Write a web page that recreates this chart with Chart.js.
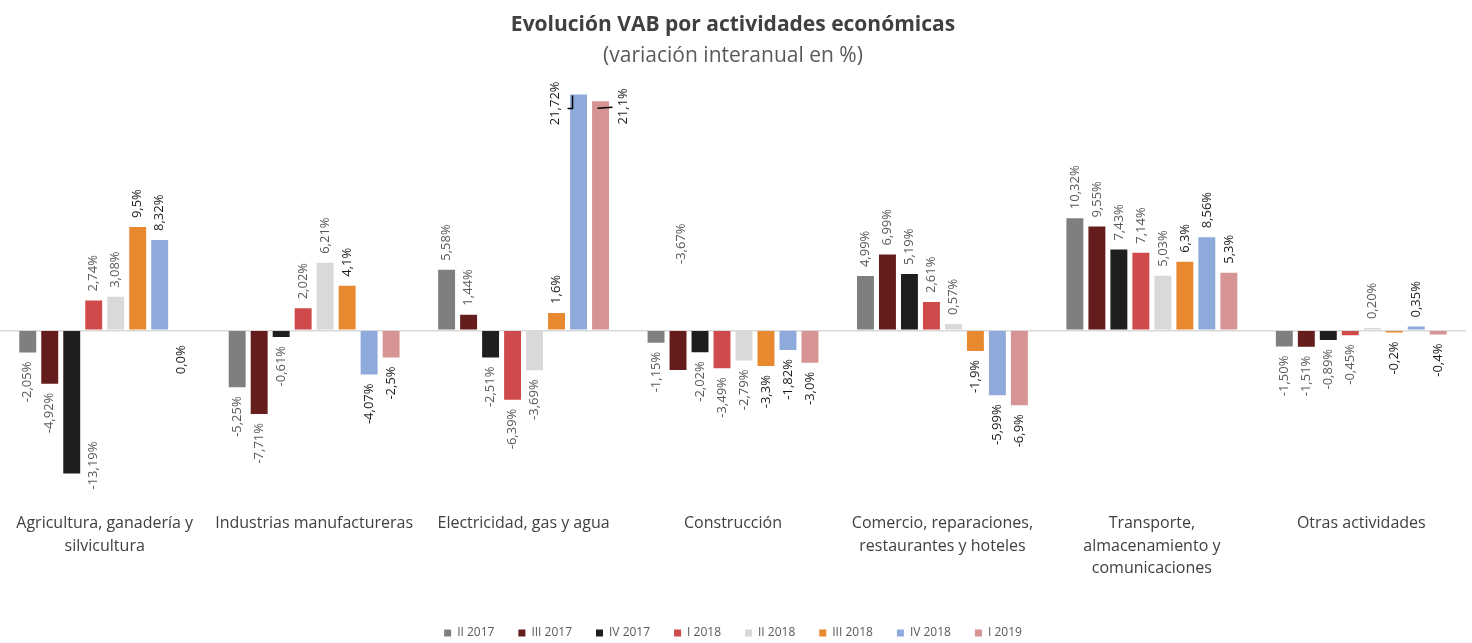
<!DOCTYPE html>
<html>
<head>
<meta charset="utf-8">
<script src="https://cdn.jsdelivr.net/npm/chart.js@4.4.1/dist/chart.umd.min.js"></script>
<style>
  html, body { margin: 0; padding: 0; background: #fff; }
  #wrap { width: 1472px; height: 643px; }
</style>
</head>
<body>
<div id="wrap"><canvas id="myChart" width="1472" height="643"></canvas></div>
<script>
// categories (x axis), multi-line like the original
const categories = [
  ['Agricultura, ganadería y', 'silvicultura'],
  'Industrias manufactureras',
  'Electricidad, gas y agua',
  'Construcción',
  ['Comercio, reparaciones,', 'restaurantes y hoteles'],
  ['Transporte,', 'almacenamiento y', 'comunicaciones'],
  'Otras actividades'
];

const seriesNames = ['II 2017', 'III 2017', 'IV 2017', 'I 2018', 'II 2018', 'III 2018', 'IV 2018', 'I 2019'];
const seriesColors = ['#7f7f7f', '#641c1c', '#1e1e1e', '#cf4a4a', '#d9d9d9', '#e8892f', '#8eaadb', '#d69594'];

// values kept as text so the label shows the same decimals as the original
const ii2017  = ['-2.05', '-5.25', '5.58', '-1.15', '4.99', '10.32', '-1.50'];
const iii2017 = ['-4.92', '-7.71', '1.44', '-3.67', '6.99', '9.55', '-1.51'];
const iv2017  = ['-13.19', '-0.61', '-2.51', '-2.02', '5.19', '7.43', '-0.89'];
const i2018   = ['2.74', '2.02', '-6.39', '-3.49', '2.61', '7.14', '-0.45'];
const ii2018  = ['3.08', '6.21', '-3.69', '-2.79', '0.57', '5.03', '0.20'];
const iii2018 = ['9.5', '4.1', '1.6', '-3.3', '-1.9', '6.3', '-0.2'];
const iv2018  = ['8.32', '-4.07', '21.72', '-1.82', '-5.99', '8.56', '0.35'];
const i2019   = ['0.0', '-2.5', '21.1', '-3.0', '-6.9', '5.3', '-0.4'];

const allSeries = [ii2017, iii2017, iv2017, i2018, ii2018, iii2018, iv2018, i2019];

const FONT = '"Open Sans", Lato, sans-serif';

// rotated value labels like excel puts them
const barLabels = {
  id: 'barLabels',
  afterDatasetsDraw(chart) {
    const ctx = chart.ctx;
    const area = chart.chartArea;
    const last = chart.data.datasets.length - 1;
    ctx.save();
    ctx.font = '13px ' + FONT;
    chart.data.datasets.forEach((ds, di) => {
      const meta = chart.getDatasetMeta(di);
      ctx.fillStyle = di >= 5 ? '#1a1a1a' : '#595959';
      meta.data.forEach((bar, i) => {
        const raw = ds.data[i];
        const v = +raw;
        const txt = raw.replace('.', ',') + '%';
        const w = ctx.measureText(txt).width;
        let x = bar.x, y, align;
        if (di === 1 && i === 3) {
          // this one got dragged up above the axis in the original
          x = bar.x + 3; y = bar.base - 67; align = 'left';
        } else if (v > 0) {
          y = bar.y - 9; align = 'left';
          if (y - w < area.top - 12) {
            // no room on top, put it next to the bar with a small leader
            align = 'right';
            y = bar.y - 13;
            const side = di === last ? 1 : -1;
            x = bar.x + side * 23;
            ctx.save();
            ctx.strokeStyle = '#000';
            ctx.lineWidth = 1.5;
            ctx.beginPath();
            if (side < 0) {
              ctx.moveTo(bar.x - 6, bar.y + 1);
              ctx.lineTo(bar.x - 6, bar.y + 14);
              ctx.lineTo(bar.x - 11, bar.y + 14);
            } else {
              ctx.moveTo(bar.x - 3, bar.y + 7);
              ctx.lineTo(bar.x + 12, bar.y + 6);
            }
            ctx.stroke();
            ctx.restore();
          }
        } else {
          y = bar.y + 9; align = 'right';
          if (v === 0) y = bar.y + 15;
          if (y + w > area.bottom) {
            // too long below, excel pushes it beside the bar
            x = bar.x + 22;
            y = bar.y - 32;
            align = 'left';
            y = y + w;
          }
        }
        ctx.save();
        ctx.translate(x, y);
        ctx.rotate(-Math.PI / 2);
        ctx.textAlign = align;
        ctx.textBaseline = 'middle';
        ctx.fillText(txt, 0, 0);
        ctx.restore();
      });
    });
    ctx.restore();
  }
};

const ctx = document.getElementById('myChart');
new Chart(ctx, {
  type: 'bar',
  data: {
    labels: categories,
    datasets: allSeries.map((d, k) => ({
      label: seriesNames[k],
      data: d,
      backgroundColor: seriesColors[k],
      borderWidth: 0,
      categoryPercentage: 0.84,
      barPercentage: 0.77
    }))
  },
  options: {
    responsive: false,
    animation: false,
    layout: { padding: { left: 0, right: 6, top: 0, bottom: -6 } },
    plugins: {
      title: {
        display: true,
        text: 'Evolución VAB por actividades económicas',
        color: '#404040',
        font: { family: FONT, size: 21, weight: 'bold' },
        padding: { top: 12, bottom: 6 }
      },
      subtitle: {
        display: true,
        text: '(variación interanual en %)',
        color: '#595959',
        font: { family: FONT, size: 21 },
        padding: { bottom: 23 }
      },
      legend: {
        position: 'bottom',
        labels: {
          boxWidth: 7,
          boxHeight: 7,
          padding: 24,
          color: '#595959',
          font: { family: FONT, size: 12 }
        }
      },
      tooltip: { enabled: false }
    },
    scales: {
      x: {
        grid: { display: false },
        border: { display: false },
        ticks: {
          color: '#404040',
          font: { family: FONT, size: 16, lineHeight: 1.42 },
          maxRotation: 0,
          autoSkip: false,
          padding: 0
        },
        afterFit(s) { s.height = 99; }
      },
      y: {
        min: -16,
        max: 22,
        ticks: { display: false, stepSize: 2 },
        border: { display: false },
        grid: {
          drawTicks: false,
          lineWidth: 1.5,
          color: c => c.tick.value === 0 ? '#d9d9d9' : 'rgba(0,0,0,0)'
        }
      }
    }
  },
  plugins: [barLabels]
});
</script>
</body>
</html>
